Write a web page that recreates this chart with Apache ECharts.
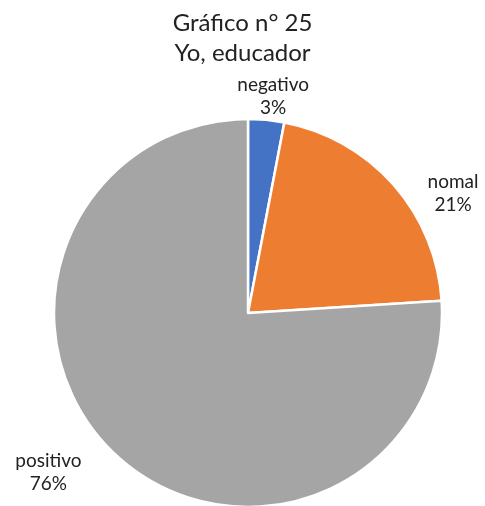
<!DOCTYPE html>
<html lang="es">
<head>
    <meta charset="UTF-8">
    <title>Gráfico n° 25</title>
    <script src="https://cdn.jsdelivr.net/npm/echarts/dist/echarts.min.js"></script>
    <style>
        html, body { margin: 0; padding: 0; background: #fff; }
        #chart { width: 485px; height: 506px; }
    </style>
</head>
<body>
    <div id="chart"></div>
    <script>
        var categorias = ['negativo', 'nomal', 'positivo'];
        var valores = [3, 21, 76];
        var colores = ['#4472C4', '#ED7D31', '#A5A5A5'];

        // desplazamiento de cada etiqueta (como "mejor ajuste" de Excel)
        var ajusteEtiquetas = [[1, -14], [47, 15], [-55, 11]];

        var myChart = echarts.init(document.getElementById('chart'));

        myChart.setOption({
            animation: false,
            title: {
                text: 'Gráfico n° 25\nYo, educador',
                left: 'center',
                top: 3,
                textStyle: {
                    fontFamily: 'Lato',
                    fontSize: 24,
                    fontWeight: 'normal',
                    color: '#222',
                    lineHeight: 30
                }
            },
            series: [{
                type: 'pie',
                center: [248, 313],
                radius: 194,
                startAngle: 90,
                clockwise: true,
                itemStyle: { borderColor: '#fff', borderWidth: 2.5 },
                label: {
                    position: 'outside',
                    formatter: '{b}\n{d}%',
                    fontFamily: 'Lato',
                    fontSize: 19,
                    lineHeight: 23,
                    color: '#222'
                },
                labelLine: { show: false, length: 10, length2: 0 },
                labelLayout: function (params) {
                    var a = ajusteEtiquetas[params.dataIndex];
                    return { align: 'center', dx: a[0], dy: a[1] };
                },
                data: categorias.map(function (c, i) {
                    return { name: c, value: valores[i], itemStyle: { color: colores[i] } };
                })
            }]
        });
    </script>
</body>
</html>
